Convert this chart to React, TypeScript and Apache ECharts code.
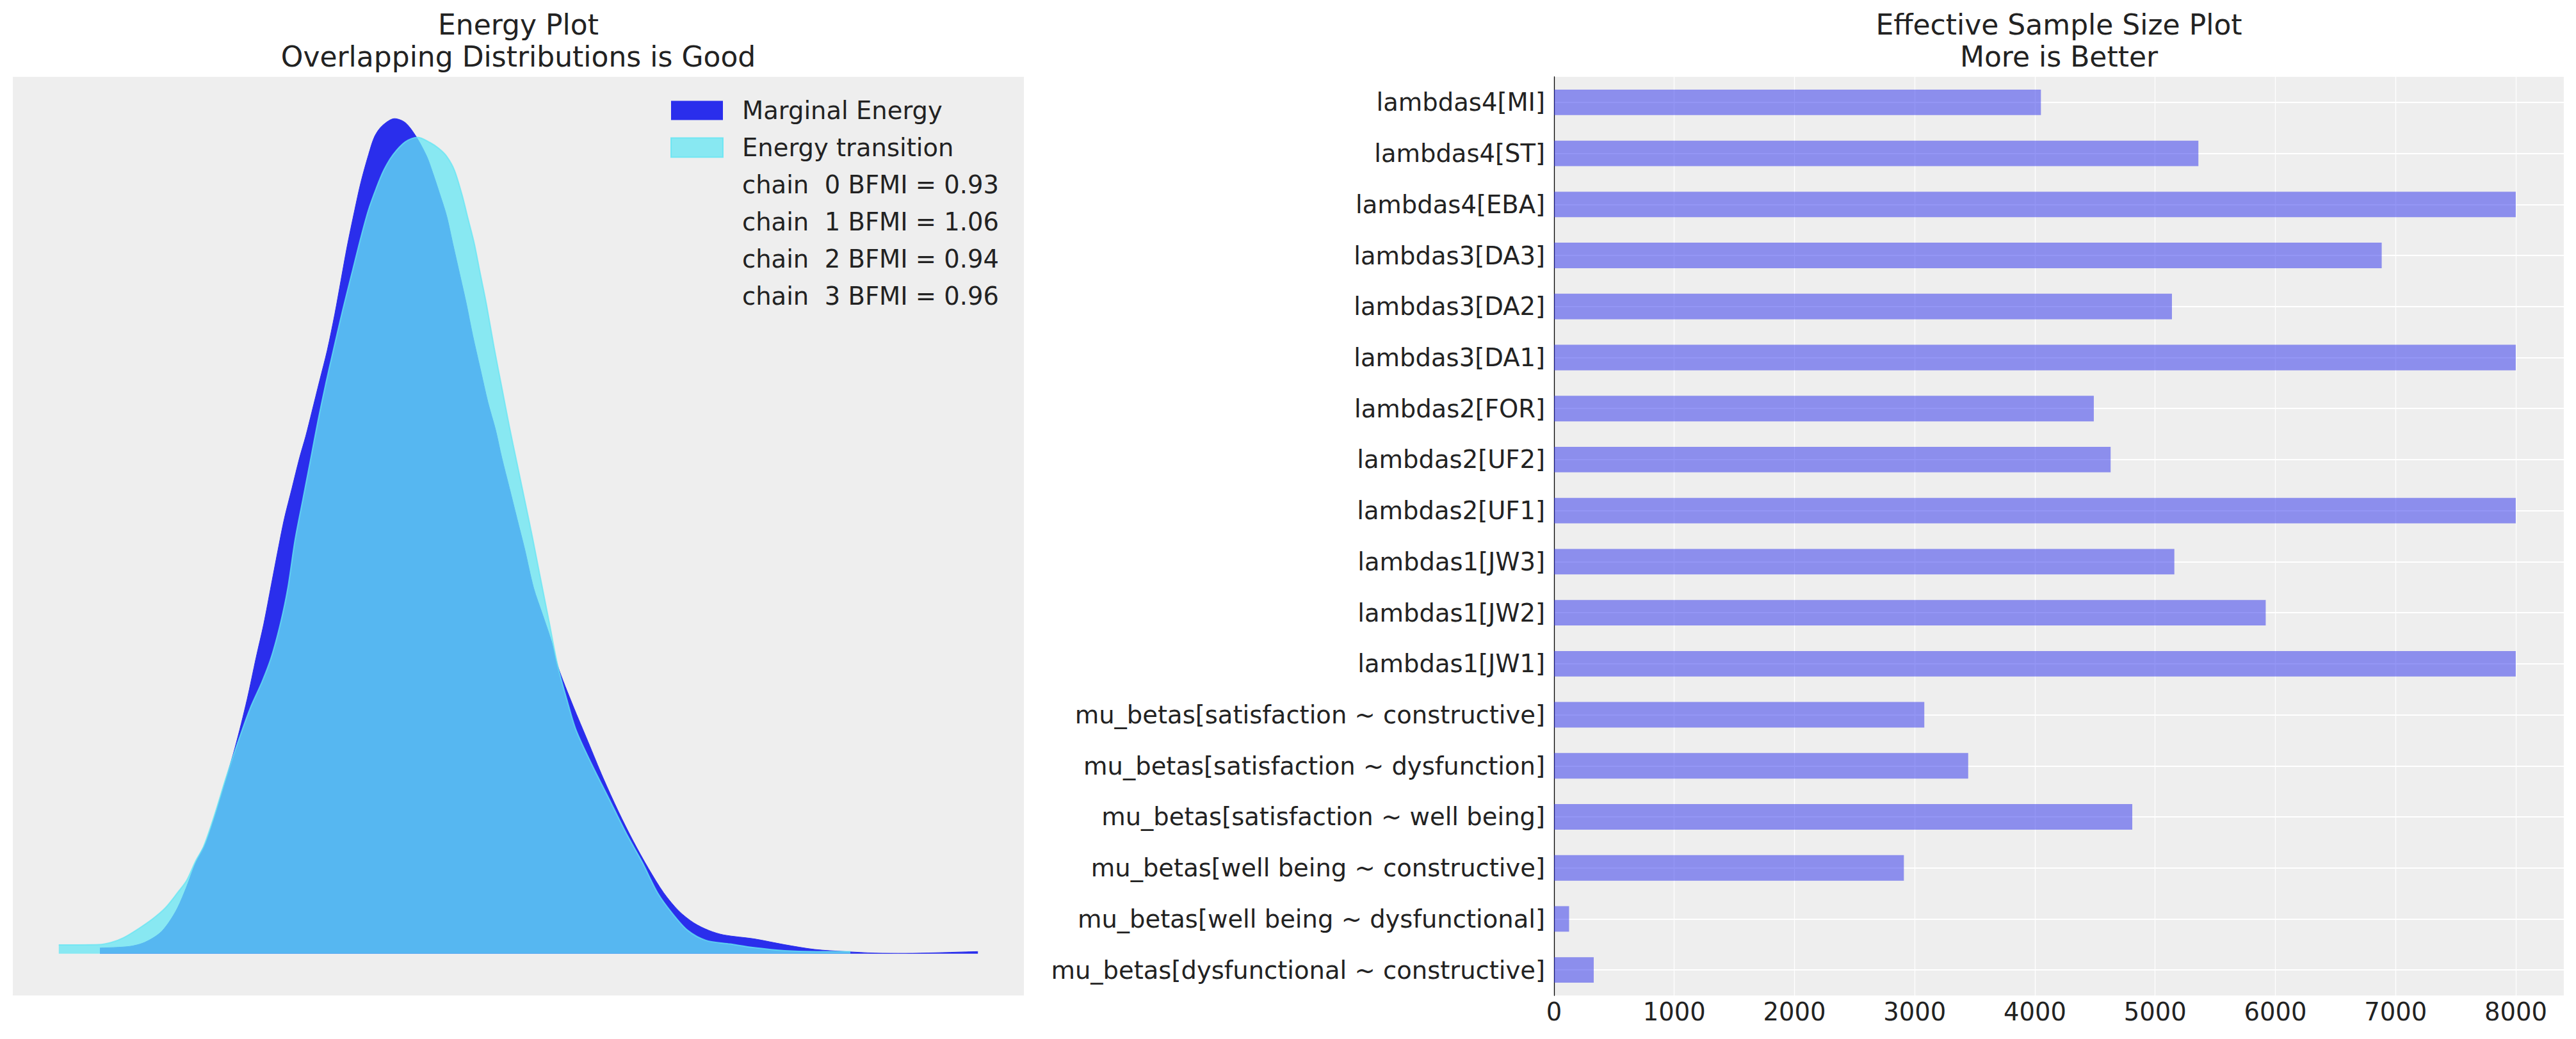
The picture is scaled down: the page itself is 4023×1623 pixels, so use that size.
import React, { useEffect, useRef } from "react";
import * as echarts from "echarts";

const FONT = '"DejaVu Sans", "Liberation Sans", sans-serif';
const TEXT = "#222222";

// Energy plot (x: centred energy, y: density)
const marginalX = [-49.42, -44.84, -42.48, -40.12, -38.71, -37.29, -35.88, -34.46, -32.81, -30.68, -28.33, -26.44, -25.02, -23.84, -22.66, -21.48, -20.63, -19.43, -18.24, -17.28, -16.32, -15.13, -13.93, -12.74, -11.78, -10.82, -9.63, -8.67, -7.48, -6.52, -5.32, -3.41, -1.74, -0.06, 1.61, 2.57, 3.52, 4.72, 5.68, 6.87, 7.83, 8.79, 9.98, 11.18, 12.37, 13.33, 14.53, 15.72, 16.92, 18.3, 19.72, 21.13, 22.08, 24.44, 26.8, 29.16, 31.52, 33.88, 36.24, 38.6, 40.95, 43.31, 45.67, 48.03, 52.75, 57.47, 62.19, 66.91, 71.63, 76.35, 81.07, 85.79, 87.67];
const marginalY = [0.0009, 0.00114, 0.00175, 0.00317, 0.00482, 0.00718, 0.01048, 0.01426, 0.01756, 0.02417, 0.03219, 0.03974, 0.04635, 0.05154, 0.05767, 0.06381, 0.06799, 0.07278, 0.07756, 0.08091, 0.08473, 0.08952, 0.0943, 0.10004, 0.1053, 0.11056, 0.1163, 0.12061, 0.12491, 0.12778, 0.12946, 0.13056, 0.12993, 0.12778, 0.12467, 0.12204, 0.11917, 0.11535, 0.11104, 0.10578, 0.10148, 0.09669, 0.09143, 0.08617, 0.08187, 0.07756, 0.07278, 0.06799, 0.06321, 0.0572, 0.05296, 0.04871, 0.04493, 0.0388, 0.03314, 0.02747, 0.02228, 0.01756, 0.01332, 0.00954, 0.00671, 0.00482, 0.00364, 0.00293, 0.00232, 0.00142, 0.00067, 0.00034, 0.0001, 0.00006, 0.00015, 0.00029, 0.00034];

const transitionX = [-55.84, -52.87, -49.56, -47.67, -45.79, -43.43, -41.07, -39.18, -37.29, -35.88, -34.46, -33.28, -31.63, -29.74, -27.85, -25.97, -24.08, -22.66, -21.25, -20.07, -18.96, -17.76, -16.56, -15.37, -14.17, -12.98, -11.54, -10.11, -8.67, -7.48, -6.28, -5.08, -3.65, -1.74, 0.2, 2.09, 3.52, 4.72, 5.92, 7.11, 8.07, 9.03, 9.98, 10.94, 12.13, 13.33, 14.53, 15.72, 16.92, 18.11, 19.31, 20.7, 22.08, 23.49, 24.91, 27.27, 30.1, 32.93, 35.29, 37.65, 40.01, 42.37, 45.2, 48.98, 52.75, 57.47, 62.19, 67.76];
const transitionY = [0.00138, 0.00138, 0.00142, 0.00175, 0.00246, 0.00388, 0.00553, 0.00718, 0.00954, 0.01143, 0.0145, 0.01662, 0.02134, 0.02747, 0.03314, 0.03833, 0.04257, 0.04635, 0.05154, 0.0572, 0.06464, 0.07087, 0.07708, 0.0833, 0.08904, 0.0943, 0.10052, 0.10626, 0.112, 0.1163, 0.11965, 0.12252, 0.12491, 0.12692, 0.12764, 0.12683, 0.12587, 0.12467, 0.12252, 0.11869, 0.11487, 0.11104, 0.10626, 0.10148, 0.09478, 0.08856, 0.08235, 0.07661, 0.07087, 0.06513, 0.059, 0.052, 0.04493, 0.03974, 0.03502, 0.02983, 0.02417, 0.01851, 0.01426, 0.00954, 0.00624, 0.00364, 0.00209, 0.00152, 0.00095, 0.00048, 0.00034, 0.00034];

const bfmiLabels = ["chain  0 BFMI = 0.93", "chain  1 BFMI = 1.06", "chain  2 BFMI = 0.94", "chain  3 BFMI = 0.96"];

// Effective sample size plot
const essCategories = [
  "lambdas4[MI]",
  "lambdas4[ST]",
  "lambdas4[EBA]",
  "lambdas3[DA3]",
  "lambdas3[DA2]",
  "lambdas3[DA1]",
  "lambdas2[FOR]",
  "lambdas2[UF2]",
  "lambdas2[UF1]",
  "lambdas1[JW3]",
  "lambdas1[JW2]",
  "lambdas1[JW1]",
  "mu_betas[satisfaction ~ constructive]",
  "mu_betas[satisfaction ~ dysfunction]",
  "mu_betas[satisfaction ~ well being]",
  "mu_betas[well being ~ constructive]",
  "mu_betas[well being ~ dysfunctional]",
  "mu_betas[dysfunctional ~ constructive]",
];
const essValues = [4050, 5360, 8000, 6885, 5140, 8000, 4490, 4630, 8000, 5160, 5920, 8000, 3080, 3445, 4810, 2910, 125, 330];

export default function App() {
  const ref = useRef<HTMLDivElement>(null);

  useEffect(() => {
    if (!ref.current) return;
    const chart = echarts.init(ref.current, undefined, { renderer: "svg" });

    const allX = marginalX.concat(transitionX);
    const xMin = Math.min(...allX);
    const xMax = Math.max(...allX);
    const xPad = (xMax - xMin) * 0.05;
    const yPeak = Math.max(...marginalY, ...transitionY);

    const marginalData = marginalX.map((x, i) => [x, marginalY[i]]);
    const transitionData = transitionX.map((x, i) => [x, transitionY[i]]);

    const titleStyle = {
      fontSize: 44,
      fontWeight: "normal" as const,
      color: TEXT,
      fontFamily: FONT,
      lineHeight: 50,
    };

    const option: any = {
      animation: false,
      backgroundColor: "#ffffff",
      textStyle: { fontFamily: FONT },
      title: [
        {
          text: "Energy Plot\nOverlapping Distributions is Good",
          left: 809.5,
          top: 13,
          padding: 0,
          textAlign: "center",
          textStyle: titleStyle,
        },
        {
          text: "Effective Sample Size Plot\nMore is Better",
          left: 3215.5,
          top: 13,
          padding: 0,
          textAlign: "center",
          textStyle: titleStyle,
        },
      ],
      legend: {
        orient: "vertical",
        left: 1047,
        top: 153,
        padding: 0,
        itemWidth: 81,
        itemHeight: 30,
        itemGap: 19,
        selectedMode: false,
        icon: "rect",
        textStyle: {
          fontSize: 38.5,
          color: TEXT,
          fontFamily: FONT,
          padding: [0, 0, 0, 25],
        },
        data: [
          { name: "Marginal Energy", itemStyle: { color: "#2a2eec", opacity: 1 } },
          {
            name: "Energy transition",
            itemStyle: {
              color: "rgba(101,229,243,0.75)",
              borderColor: "rgba(101,229,243,0.85)",
              borderWidth: 2,
            },
          },
          ...bfmiLabels.map((n) => ({ name: n, icon: "none" })),
        ],
      },
      grid: [
        {
          left: 20,
          top: 120,
          width: 1579,
          height: 1435,
          show: true,
          backgroundColor: "#eeeeee",
          borderWidth: 0,
        },
        {
          left: 2427,
          top: 120,
          width: 1577,
          height: 1435,
          show: true,
          backgroundColor: "#eeeeee",
          borderWidth: 0,
        },
      ],
      xAxis: [
        {
          type: "value",
          gridIndex: 0,
          min: xMin - xPad,
          max: xMax + xPad,
          show: false,
          splitLine: { show: false },
        },
        {
          type: "value",
          gridIndex: 1,
          min: 0,
          max: 8400,
          interval: 1000,
          axisLine: { show: false },
          axisTick: { show: false },
          axisLabel: {
            fontSize: 38.5,
            color: TEXT,
            fontFamily: FONT,
            margin: 6,
            showMaxLabel: false,
            formatter: (v: number) => String(v),
          },
          splitLine: { show: true, lineStyle: { color: "#ffffff", width: 1.3 } },
        },
      ],
      yAxis: [
        {
          type: "value",
          gridIndex: 0,
          min: -0.05 * yPeak,
          max: 1.05 * yPeak,
          show: false,
          splitLine: { show: false },
        },
        {
          type: "category",
          gridIndex: 1,
          inverse: true,
          data: essCategories,
          axisLine: { show: true, lineStyle: { color: "#000000", width: 1.3 } },
          axisTick: { show: false },
          axisLabel: {
            fontSize: 38.5,
            color: TEXT,
            fontFamily: FONT,
            margin: 14,
            interval: 0,
          },
          splitLine: {
            show: true,
            interval: 0,
            alignWithLabel: true,
            lineStyle: { color: "#ffffff", width: 2 },
          },
        },
      ],
      series: [
        {
          name: "Marginal Energy",
          type: "line",
          xAxisIndex: 0,
          yAxisIndex: 0,
          data: marginalData,
          smooth: 0.3,
          showSymbol: false,
          symbol: "none",
          itemStyle: { color: "#2a2eec" },
          lineStyle: { color: "#2a2eec", width: 1 },
          areaStyle: { color: "#2a2eec", opacity: 1 },
          z: 2,
        },
        {
          name: "Energy transition",
          type: "line",
          xAxisIndex: 0,
          yAxisIndex: 0,
          data: transitionData,
          smooth: 0.3,
          showSymbol: false,
          symbol: "none",
          itemStyle: { color: "#65e5f3" },
          lineStyle: { color: "#65e5f3", width: 2, opacity: 0.75 },
          areaStyle: { color: "#65e5f3", opacity: 0.75 },
          z: 3,
        },
        ...bfmiLabels.map((n) => ({
          name: n,
          type: "line",
          xAxisIndex: 0,
          yAxisIndex: 0,
          data: [],
          showSymbol: false,
        })),
        {
          name: "ess",
          type: "bar",
          xAxisIndex: 1,
          yAxisIndex: 1,
          data: essValues,
          barWidth: "50%",
          itemStyle: { color: "#2a2eec", opacity: 0.5 },
        },
      ],
    };

    chart.setOption(option);
    return () => chart.dispose();
  }, []);

  return (
    <div
      ref={ref}
      style={{ position: "fixed", left: 0, top: 0, width: 4023, height: 1623, background: "#ffffff" }}
    />
  );
}
